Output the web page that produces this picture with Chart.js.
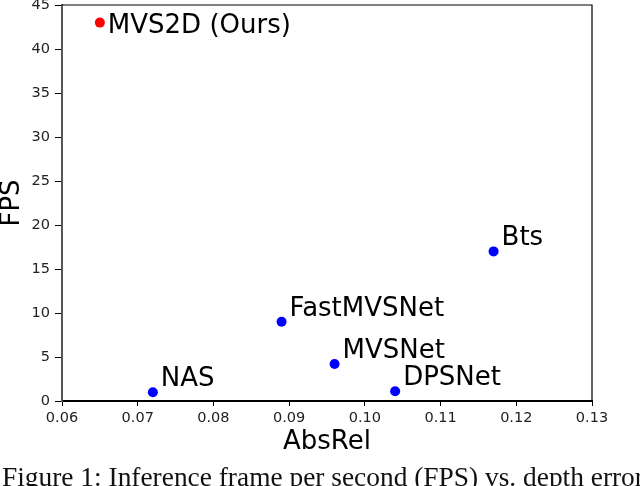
<!DOCTYPE html>
<html>
<head>
<meta charset="utf-8">
<script src="https://cdn.jsdelivr.net/npm/chart.js@4/dist/chart.umd.min.js"></script>
<style>
  html, body { margin: 0; padding: 0; background: #fff; }
  #wrap { position: relative; width: 640px; height: 486px; overflow: hidden; }
  #caption {
    position: absolute; left: 2px; top: 461px; white-space: nowrap;
    font-family: "Liberation Serif", "Times New Roman", serif; font-size: 27.4px; line-height: 32px; color: #111;
  }
</style>
</head>
<body>
<div id="wrap">
  <canvas id="chart" width="640" height="486"></canvas>
  <div id="caption">Figure 1: Inference frame per second (FPS) vs. depth error</div>
</div>
<script>
// methods, AbsRel (x) and FPS (y)
const methods = ['MVS2D (Ours)', 'NAS', 'FastMVSNet', 'MVSNet', 'DPSNet', 'Bts'];
const absRel = [0.065, 0.072, 0.089, 0.096, 0.104, 0.117];
const fps = [43, 1.0, 9.0, 4.2, 1.1, 17];
const xTicks = [0.06, 0.07, 0.08, 0.09, 0.10, 0.11, 0.12, 0.13];
const yTicks = [0, 5, 10, 15, 20, 25, 30, 35, 40, 45];

const pts = methods.map((m, i) => ({ x: absRel[i], y: fps[i] }));
const colors = methods.map((m, i) => i === 0 ? '#ff0000' : '#0000ff');

// draw text next to each point + the box around the plot
const annotate = {
  id: 'annotate',
  afterDatasetsDraw(chart) {
    const ctx = chart.ctx;
    const meta = chart.getDatasetMeta(0);
    ctx.save();
    ctx.font = '26px "DejaVu Sans"';
    ctx.fillStyle = '#000';
    ctx.textBaseline = 'alphabetic';
    meta.data.forEach((p, i) => {
      const dy = i === 0 ? 10 : -6;  // ours was placed level with its dot
      ctx.fillText(methods[i], p.x + 8, p.y + dy);
    });
    const a = chart.chartArea;
    ctx.strokeStyle = '#000';
    ctx.lineWidth = 1.2;
    ctx.beginPath();
    ctx.moveTo(a.left, a.top);
    ctx.lineTo(a.right, a.top);
    ctx.lineTo(a.right, a.bottom);
    ctx.stroke();
    ctx.restore();
  }
};

new Chart(document.getElementById('chart'), {
  type: 'scatter',
  data: {
    datasets: [{
      data: pts,
      pointRadius: 5,
      pointHoverRadius: 5,
      pointBackgroundColor: colors,
      pointBorderColor: colors,
      pointBorderWidth: 0
    }]
  },
  options: {
    responsive: false,
    animation: false,
    layout: { padding: { left: 0, top: 5, right: 48, bottom: 25 } },
    plugins: { legend: { display: false }, tooltip: { enabled: false } },
    scales: {
      x: {
        type: 'linear', min: 0.06, max: 0.13,
        afterBuildTicks: s => { s.ticks = xTicks.map(v => ({ value: v })); },
        afterFit: s => { s.height = 60; s.paddingLeft = 0; s.paddingRight = 0; },
        border: { display: true, color: '#000', width: 2 },
        grid: { drawOnChartArea: false, tickLength: 5, color: '#000', tickWidth: 1 },
        ticks: {
          padding: 4, color: '#222', font: { family: 'DejaVu Sans', size: 14.5 },
          maxRotation: 0, callback: v => v.toFixed(2)
        },
        title: { display: true, text: 'AbsRel', color: '#000', font: { family: 'DejaVu Sans', size: 26 }, padding: { top: 0, bottom: 3 } }
      },
      y: {
        type: 'linear', min: 0, max: 45,
        afterBuildTicks: s => { s.ticks = yTicks.map(v => ({ value: v })); },
        afterFit: s => { s.width = 62; s.paddingTop = 0; s.paddingBottom = 0; },
        border: { display: true, color: '#555', width: 2 },
        grid: { drawOnChartArea: false, tickLength: 7, color: '#000', tickWidth: 1 },
        ticks: { padding: 5, color: '#222', font: { family: 'DejaVu Sans', size: 14.5 } },
        title: { display: true, text: 'FPS', color: '#000', font: { family: 'DejaVu Sans', size: 26 }, padding: { top: -3, bottom: 0 } }
      }
    }
  },
  plugins: [annotate]
});
</script>
</body>
</html>
